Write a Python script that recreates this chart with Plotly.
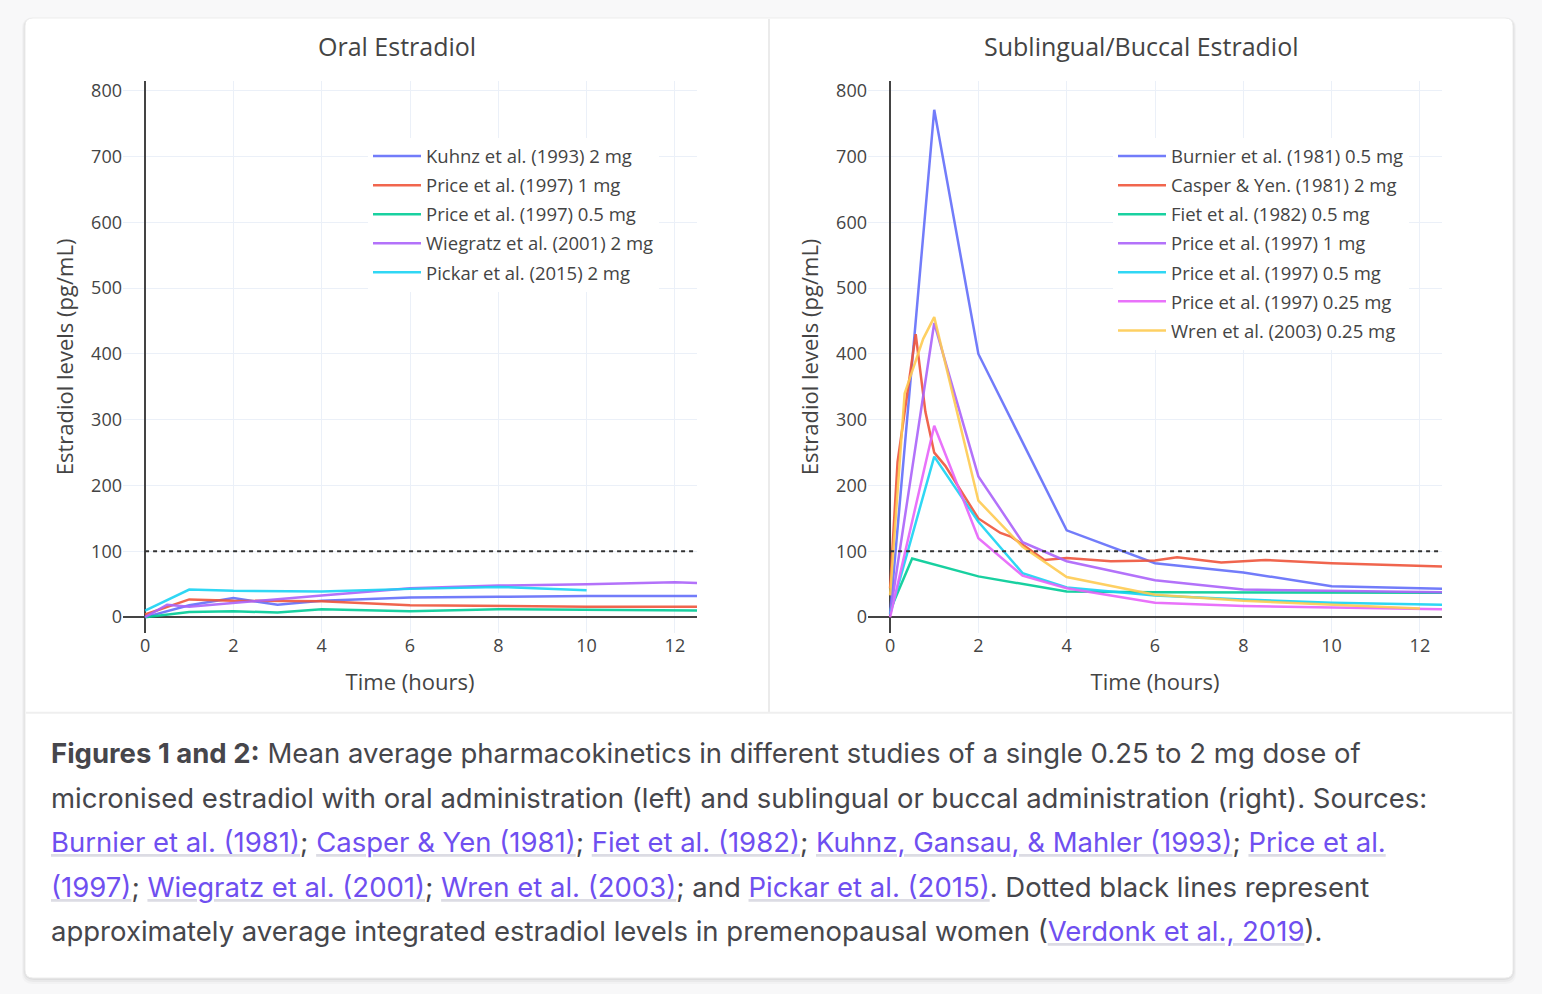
import plotly.graph_objects as go

W, H = 1542, 994

# ---------------- data ----------------
# Oral estradiol
kuhnz_t = [0, 1, 2, 3, 4, 6, 8, 10, 12.5]
kuhnz_v = [0, 18, 29, 19, 25, 30, 31, 32, 32]
price1_oral_t = [0, 1, 2, 4, 6, 8, 10, 12.5]
price1_oral_v = [4, 27, 25, 24, 18, 17, 16, 16]
price05_oral_t = [0, 1, 2, 3, 4, 6, 8, 10, 12.5]
price05_oral_v = [0, 8, 9, 7, 12, 9, 12, 11, 10]
wiegratz_t = [0, 0.5, 1, 2, 4, 6, 8, 10, 12, 12.5]
wiegratz_v = [0, 19, 16, 22, 33, 44, 48, 50, 53, 52]
pickar_t = [0, 1, 2, 4, 6, 8, 10]
pickar_v = [10, 42, 40, 39, 43, 46, 41]

# Sublingual / buccal estradiol
burnier_t = [0, 1, 2, 4, 6, 8, 10, 12.5]
burnier_v = [5, 771, 400, 132, 82, 68, 47, 43]
casper_t = [0, 0.17, 0.58, 0.8, 1, 1.25, 2, 2.5, 2.75, 3.5, 4, 5, 6, 6.5, 7.5, 8.5, 10, 12.5]
casper_v = [44, 236, 430, 312, 250, 230, 150, 128, 122, 87, 90, 85, 86, 91, 83, 87, 82, 77]
fiet_t = [0, 0.5, 2, 3, 4, 6, 8, 10, 12.5]
fiet_v = [10, 89, 62, 50, 39, 38, 38, 37, 37]
price1_sl_t = [0, 1, 2, 3, 4, 6, 8, 10, 12.5]
price1_sl_v = [4, 447, 214, 114, 85, 56, 42, 40, 38]
price05_sl_t = [0, 1, 2, 3, 4, 6, 8, 10, 12.5]
price05_sl_v = [4, 244, 145, 67, 45, 33, 27, 22, 19]
price025_sl_t = [0, 1, 2, 3, 4, 6, 8, 10, 12.5]
price025_sl_v = [0, 291, 120, 63, 44, 22, 17, 15, 12]
wren_t = [0, 0.33, 0.75, 1, 2, 3, 4, 6, 8, 10, 12]
wren_v = [33, 340, 423, 456, 177, 107, 61, 34, 25, 19, 13]

premenopausal_level = 100

oral_series = [
    ("Kuhnz et al. (1993) 2 mg", kuhnz_t, kuhnz_v, "#636efa"),
    ("Price et al. (1997) 1 mg", price1_oral_t, price1_oral_v, "#EF553B"),
    ("Price et al. (1997) 0.5 mg", price05_oral_t, price05_oral_v, "#00cc96"),
    ("Wiegratz et al. (2001) 2 mg", wiegratz_t, wiegratz_v, "#ab63fa"),
    ("Pickar et al. (2015) 2 mg", pickar_t, pickar_v, "#19d3f3"),
]
sl_series = [
    ("Burnier et al. (1981) 0.5 mg", burnier_t, burnier_v, "#636efa"),
    ("Casper &amp; Yen. (1981) 2 mg", casper_t, casper_v, "#EF553B"),
    ("Fiet et al. (1982) 0.5 mg", fiet_t, fiet_v, "#00cc96"),
    ("Price et al. (1997) 1 mg", price1_sl_t, price1_sl_v, "#ab63fa"),
    ("Price et al. (1997) 0.5 mg", price05_sl_t, price05_sl_v, "#19d3f3"),
    ("Price et al. (1997) 0.25 mg", price025_sl_t, price025_sl_v, "#e763fa"),
    ("Wren et al. (2003) 0.25 mg", wren_t, wren_v, "#FECB52"),
]


def px(x):
    return x / W


def py(y):
    return 1 - y / H


fig = go.Figure()
for name, t, v, c in oral_series:
    fig.add_trace(go.Scatter(x=t, y=v, name=name, mode="lines", xaxis="x", yaxis="y",
                             line=dict(color=c, width=2.5), opacity=0.9,
                             legend="legend", legendgroup="o" + name))
for name, t, v, c in sl_series:
    fig.add_trace(go.Scatter(x=t, y=v, name=name, mode="lines", xaxis="x2", yaxis="y2",
                             line=dict(color=c, width=2.5), opacity=0.9,
                             legend="legend2", legendgroup="s" + name))

axis_font = dict(family="Open Sans", size=18, color="#444")
title_font = dict(family="Open Sans", size=22, color="#444")
xcommon = dict(range=[-0.5, 12.5], dtick=2, tick0=0, showgrid=True, gridcolor="#EBF0F8",
               gridwidth=1, zeroline=True, zerolinecolor="#444", zerolinewidth=1.5,
               showline=False, ticks="", tickfont=axis_font,
               title=dict(text="Time (hours)", font=title_font, standoff=18))
ycommon = dict(range=[-24.2, 815.2], dtick=100, tick0=0, showgrid=True, gridcolor="#EBF0F8",
               gridwidth=1, zeroline=True, zerolinecolor="#444", zerolinewidth=1.5,
               showline=False, ticks="", tickfont=axis_font,
               domain=[py(632), py(78)],
               title=dict(text="Estradiol levels (pg/mL)", font=title_font, standoff=11))

legend_common = dict(xanchor="left", yanchor="top", bgcolor="#ffffff",
                     font=dict(family="Open Sans", size=18.5, color="#444"),
                     traceorder="grouped", tracegroupgap=2, itemwidth=48)

fig.update_layout(
    width=W, height=H, autosize=False,
    margin=dict(l=0, r=0, t=0, b=0),
    paper_bgcolor="#f8f8f9", plot_bgcolor="#ffffff",
    font=dict(family="Open Sans", color="#444"),
    xaxis=dict(domain=[px(123), px(697)], anchor="y", **xcommon),
    yaxis=dict(anchor="x", **ycommon),
    xaxis2=dict(domain=[px(868), px(1442)], anchor="y2", **xcommon),
    yaxis2=dict(anchor="x2", **ycommon),
    legend=dict(x=px(368), y=py(135), **legend_common),
    legend2=dict(x=px(1113), y=py(135), **legend_common),
)

# --- card background, shadow and dividers ---
def rounded_rect(x0, y0, x1, y1, r):
    return (f"M {px(x0 + r)},{py(y0)} L {px(x1 - r)},{py(y0)} Q {px(x1)},{py(y0)} {px(x1)},{py(y0 + r)} "
            f"L {px(x1)},{py(y1 - r)} Q {px(x1)},{py(y1)} {px(x1 - r)},{py(y1)} "
            f"L {px(x0 + r)},{py(y1)} Q {px(x0)},{py(y1)} {px(x0)},{py(y1 - r)} "
            f"L {px(x0)},{py(y0 + r)} Q {px(x0)},{py(y0)} {px(x0 + r)},{py(y0)} Z")

shapes = []
for off, op in [(6, 0.025), (4, 0.035), (2, 0.05)]:
    shapes.append(dict(type="path", xref="paper", yref="paper", layer="below",
                       path=rounded_rect(25 - off / 2, 15, 1513 + off / 2, 978 + off, 10),
                       fillcolor=f"rgba(0,0,0,{op})", line=dict(width=0)))
shapes.append(dict(type="path", xref="paper", yref="paper", layer="below",
                   path=rounded_rect(25, 15, 1513, 978, 8),
                   fillcolor="#ffffff", line=dict(color="#ececec", width=1)))
shapes.append(dict(type="line", xref="paper", yref="paper", layer="below",
                   x0=px(769), x1=px(769), y0=py(16), y1=py(712),
                   line=dict(color="#ebebeb", width=2)))
shapes.append(dict(type="line", xref="paper", yref="paper", layer="below",
                   x0=px(26), x1=px(1512), y0=py(712), y1=py(712),
                   line=dict(color="#efefef", width=2)))
# premenopausal reference lines
for xr, yr in [("x", "y"), ("x2", "y2")]:
    shapes.append(dict(type="line", xref=xr, yref=yr, x0=0, x1=12.5,
                       y0=premenopausal_level, y1=premenopausal_level,
                       line=dict(color="#333", width=2, dash="4px,4px")))
fig.update_layout(shapes=shapes)

# --- subplot titles ---
annotations = [
    dict(text="Oral Estradiol", x=px(397), y=py(43), xref="paper", yref="paper",
         xanchor="center", yanchor="middle", showarrow=False,
         font=dict(family="Open Sans", size=25, color="#444")),
    dict(text="Sublingual/Buccal Estradiol", x=px(1141), y=py(43), xref="paper", yref="paper",
         xanchor="center", yanchor="middle", showarrow=False,
         font=dict(family="Open Sans", size=25, color="#444")),
]

LINK = "#6f4ff0"


def L(s):
    # underline painted in light grey (outer span), link text in purple (inner span)
    return (f"<span style=\"fill:#dcdce4;text-decoration:underline\">"
            f"<span style=\"color:{LINK}\">{s}</span></span>")


caption_lines = [
    "<b>Figures 1 and 2:</b> Mean average pharmacokinetics in different studies of a single 0.25 to 2 mg dose of",
    "micronised estradiol with oral administration (left) and sublingual or buccal administration (right). Sources:",
    L("Burnier et al. (1981)") + "; " + L("Casper &amp; Yen (1981)") + "; " + L("Fiet et al. (1982)") + "; "
    + L("Kuhnz, Gansau, &amp; Mahler (1993)") + "; " + L("Price et al."),
    L("(1997)") + "; " + L("Wiegratz et al. (2001)") + "; " + L("Wren et al. (2003)") + "; and "
    + L("Pickar et al. (2015)") + ". Dotted black lines represent",
    "approximately average integrated estradiol levels in premenopausal women (" + L("Verdonk et al., 2019") + ").",
]
caption_y = [752, 797, 842, 887, 931]
for line, yy in zip(caption_lines, caption_y):
    annotations.append(dict(text=line, x=px(49), y=py(yy), xref="paper", yref="paper",
                            xanchor="left", yanchor="middle", showarrow=False, align="left",
                            font=dict(family="Inter", size=27.5, color="#46464b")))
fig.update_layout(annotations=annotations)

fig.write_html("out.html")
